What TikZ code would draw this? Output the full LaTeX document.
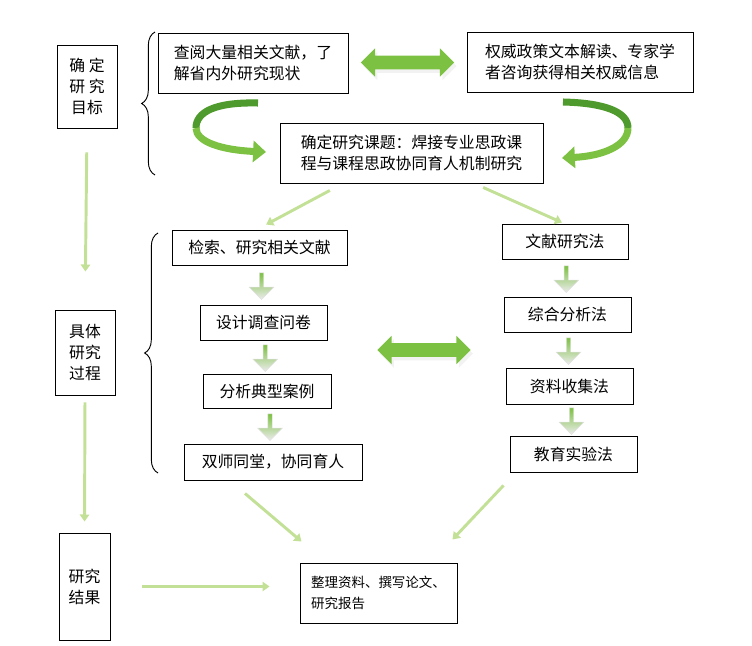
\documentclass[tikz,border=0pt]{standalone}
\usepackage{fontspec}
\setmainfont{Noto Sans CJK SC}
\usetikzlibrary{positioning, arrows.meta, calc, shapes.arrows, decorations.pathreplacing, shadows}
\definecolor{lightgreen}{HTML}{C2E096}
\definecolor{midgreen}{HTML}{7CC142}
\definecolor{darkgreen}{HTML}{4F9A2C}

\begin{document}
\begin{tikzpicture}[
  x=0.03cm, y=-0.03cm,
  every node/.style={font=\fontsize{13.5}{18}\selectfont},
  box/.style={draw, line width=0.8pt, inner sep=2pt, align=center},
  leftbox/.style={box, align=left},
  greenedge/.style={draw=lightgreen, line width=2.5pt, -{Triangle[width=8pt,length=6pt]}},
  bigarrow/.style={double arrow, fill=midgreen, double arrow head extend=0.22cm,
    minimum height=2.8cm, inner sep=0.2cm,
    drop shadow={shadow xshift=2pt, shadow yshift=-3pt, fill=gray!20}},
  downarrow/.style={single arrow, shape border rotate=270, top color=midgreen, bottom color=gray!15,
    draw=gray!25, single arrow head extend=0.3cm, minimum height=0.8cm, inner sep=0.06cm},
  bracedeco/.style={decorate, decoration={brace, amplitude=0.4cm}, line width=0.8pt}
]
\useasboundingbox (0,0) rectangle (752,646);

\node[box, minimum width=1.8cm, minimum height=2.49cm] (goal) at (87,86.5) {确 定\\研 究\\目标};
\node[box, minimum width=1.8cm, minimum height=2.55cm] (process) at (85,352.5) {具体\\研究\\过程};
\node[box, minimum width=1.53cm, minimum height=3.21cm] (result) at (84.5,586.5) {研究\\结果};

\node[leftbox, minimum width=5.7cm, minimum height=1.8cm] (read) at (253,63) {查阅大量相关文献，了\\解省内外研究现状};
\node[leftbox, minimum width=6.78cm, minimum height=1.8cm] (policy) at (580,62) {权威政策文本解读、专家学\\者咨询获得相关权威信息};
\node[leftbox, minimum width=7.89cm, minimum height=1.8cm] (topic) at (411.5,153) {确定研究课题：焊接专业思政课\\程与课程思政协同育人机制研究};

\node[box, minimum width=5.25cm, minimum height=1.05cm] (search) at (259.5,247.5) {检索、研究相关文献};
\node[box, minimum width=3.81cm, minimum height=1.05cm] (survey) at (263.5,322.5) {设计调查问卷};
\node[box, minimum width=3.84cm, minimum height=1.02cm] (cases) at (267,391) {分析典型案例};
\node[box, minimum width=5.34cm, minimum height=1.08cm] (dual) at (273,462) {双师同堂，协同育人};

\node[box, minimum width=3.78cm, minimum height=1.05cm] (m1) at (565,241.5) {文献研究法};
\node[box, minimum width=3.81cm, minimum height=1.05cm] (m2) at (567.5,314.5) {综合分析法};
\node[box, minimum width=3.81cm, minimum height=1.08cm] (m3) at (569.5,386) {资料收集法};
\node[box, minimum width=3.81cm, minimum height=1.08cm] (m4) at (573.5,454) {教育实验法};

\node[leftbox, minimum width=4.71cm, minimum height=1.8cm, font=\fontsize{11.5}{18}\selectfont] (final) at (378.5,593) {整理资料、撰写论文、\\研究报告};

\draw[bracedeco] (155,175) -- (155,32);
\draw[bracedeco] (158,473) -- (158,233);

\node[bigarrow] (swap1) at ($(read.east)!0.5!(policy.west)$) {};
\node[bigarrow] (swap2) at (424,350) {};

\coordinate (l1) at (258,103);
\coordinate (l2) at (196,128);
\coordinate (l3) at (266,152);
\draw[darkgreen, line width=6pt] (l1) .. controls (215,102) and (196,112) .. (l2);
\draw[midgreen, line width=6pt, -{Triangle[width=18pt,length=11pt]}] (l2) .. controls (196,142) and (222,150) .. (l3);

\coordinate (r1) at (563,102);
\coordinate (r2) at (628,128);
\coordinate (r3) at (562,158);
\draw[darkgreen, line width=6pt] (r1) .. controls (605,103) and (628,112) .. (r2);
\draw[midgreen, line width=6pt, -{Triangle[width=18pt,length=11pt]}] (r2) .. controls (628,146) and (602,156) .. (r3);

\node[downarrow] at ($(search.south)!0.5!(survey.north)$) {};
\node[downarrow] at ($(survey.south)!0.5!(cases.north)$) {};
\node[downarrow] at ($(cases.south)!0.5!(dual.north)$) {};
\node[downarrow] at ($(m1.south)!0.5!(m2.north)$) {};
\node[downarrow] at ($(m2.south)!0.5!(m3.north)$) {};
\node[downarrow] at ($(m3.south)!0.5!(m4.north)$) {};

\draw[greenedge, shorten <=0.72cm, shorten >=1.14cm] (goal.south) -- (process.north);
\draw[greenedge, shorten <=0.21cm, shorten >=0.33cm] (process.south) -- (result.north);
\draw[greenedge] ([xshift=-2.45cm, yshift=-0.21cm]topic.south) -- ([xshift=0.2cm, yshift=0.15cm]search.north);
\draw[greenedge] ([xshift=2.15cm, yshift=-0.12cm]topic.south) -- ([xshift=-0.09cm, yshift=0.03cm]m1.north);
\draw[greenedge] ([xshift=-0.84cm, yshift=-0.39cm]dual.south) -- ([xshift=0.06cm, yshift=0.63cm]final.north west);
\draw[greenedge] ([xshift=-2.1cm, yshift=-0.39cm]m4.south) -- ([xshift=-0.15cm, yshift=0.69cm]final.north east);
\draw[greenedge, shorten <=0.96cm, shorten >=0.9cm] (result.east) -- (result.east -| final.west);

\end{tikzpicture}
\end{document}
